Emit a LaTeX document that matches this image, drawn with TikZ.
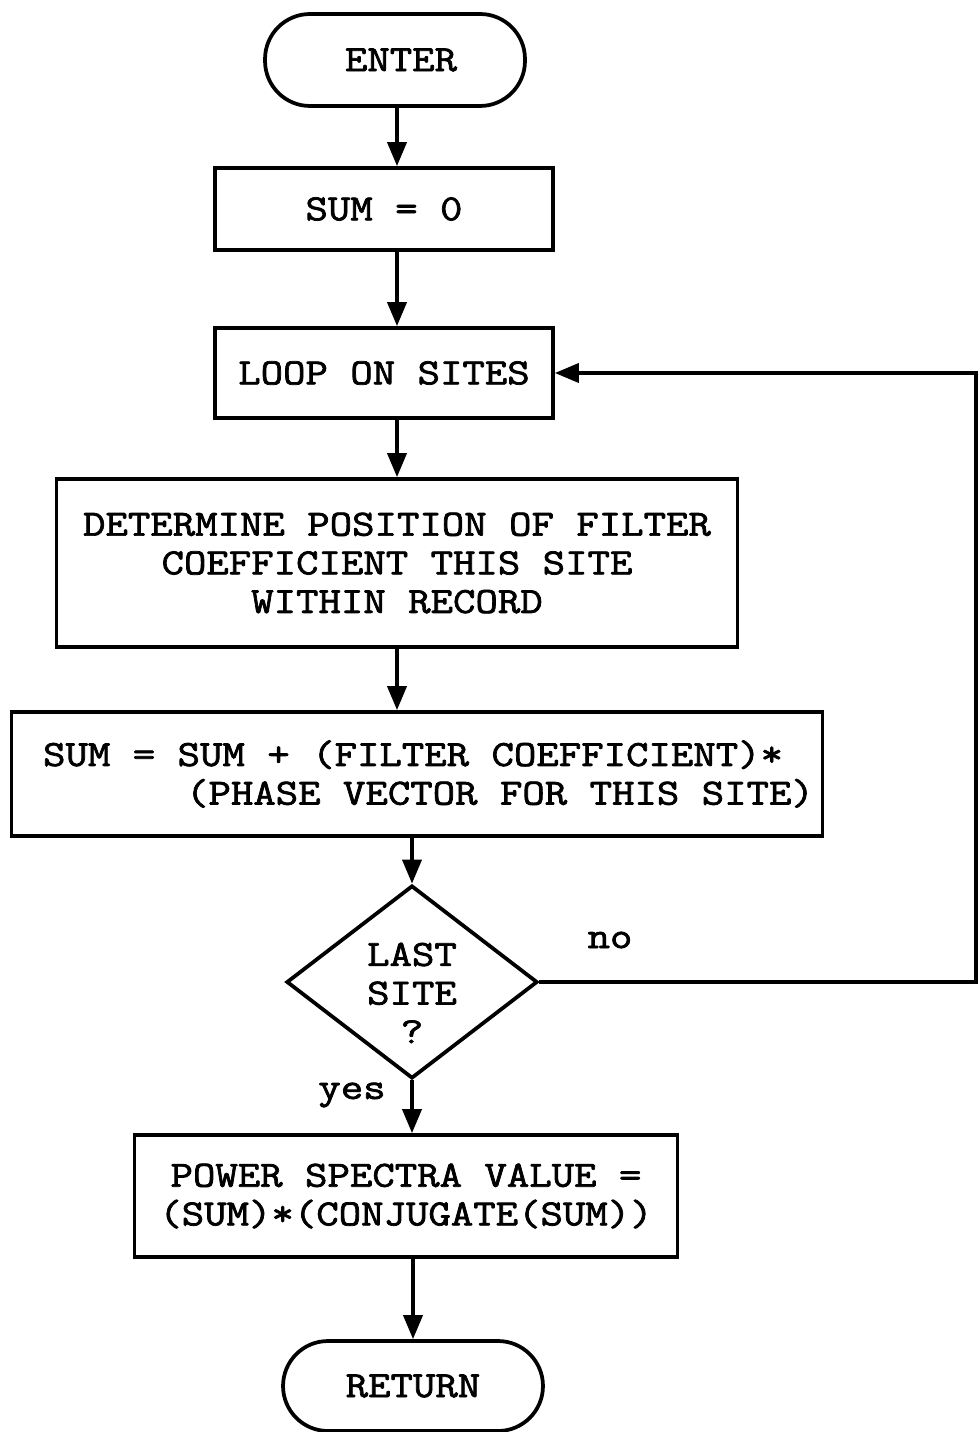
\documentclass[tikz,border=0pt]{standalone}
\usepackage{fontspec}
\newfontfamily\typew[FakeStretch=1.18,FakeBold=2]{Latin Modern Mono}
\usetikzlibrary{arrows.meta, positioning, shapes.geometric}

\begin{document}
\begin{tikzpicture}[
    x=0.02cm, y=-0.02cm,
    font=\typew\fontsize{21}{22}\selectfont,
    startstop/.style={rectangle, rounded corners=0.9cm, minimum width=5.2cm, minimum height=1.84cm, align=center, draw=black, line width=0.075cm},
    process/.style={rectangle, align=center, draw=black, line width=0.075cm, inner sep=0pt},
    decision/.style={diamond, minimum width=5.02cm, minimum height=3.86cm, align=center, draw=black, line width=0.075cm, inner sep=-0.4cm},
    line/.style={draw=black, line width=0.075cm, -{Triangle[length=0.48cm, width=0.38cm]}}
]
    \useasboundingbox (0,0) rectangle (979,1432);

    \node[startstop] (enter) at (395,60) {\hspace*{0.24cm}ENTER};
    \node[process, minimum width=6.76cm, minimum height=1.64cm] (sumzero) at (384,209) {SUM = 0};
    \node[process, minimum width=6.76cm, minimum height=1.8cm] (loop) at (384,373) {LOOP ON SITES};
    \node[process, minimum width=13.62cm, minimum height=3.36cm] (position) at (397,563) {DETERMINE POSITION OF FILTER\\COEFFICIENT THIS SITE\\WITHIN RECORD};
    \node[process, align=left, minimum width=16.22cm, minimum height=2.48cm] (accum) at (417,774) {\hspace*{0.46cm}SUM = SUM + (FILTER COEFFICIENT)*\\\hspace*{0.46cm}\hspace*{2.86cm}(PHASE VECTOR FOR THIS SITE)};
    \node[decision] (lastsite) at (412,982) {\rule{0pt}{0.9cm}LAST\\SITE\\?};
    \node[process, minimum width=10.86cm, minimum height=2.44cm] (power) at (406,1196) {POWER SPECTRA VALUE =\\(SUM)*(CONJUGATE(SUM))};
    \node[startstop, minimum height=1.8cm] (return) at (413,1386) {RETURN};

    \node (nolabel) at (610,940) {no};
    \node (yeslabel) at (352,1095) {yes};
    \coordinate (backturn) at (976,373);

    % Connectors
    \draw[line] (enter.south -| position) -- (sumzero.north -| position);
    \draw[line] (sumzero.south -| position) -- (loop.north -| position);
    \draw[line] (loop.south -| position) -- (position.north);
    \draw[line] (position.south) -- (position.south |- accum.north);
    \draw[line] (accum.south -| lastsite) -- (lastsite.north);
    \draw[line] (lastsite.south) -- (lastsite.south |- power.north);
    \draw[line] (power.south -| return) -- (return.north);
    \draw[line] (lastsite.east) -| (backturn) -- (loop.east);
\end{tikzpicture}
\end{document}
